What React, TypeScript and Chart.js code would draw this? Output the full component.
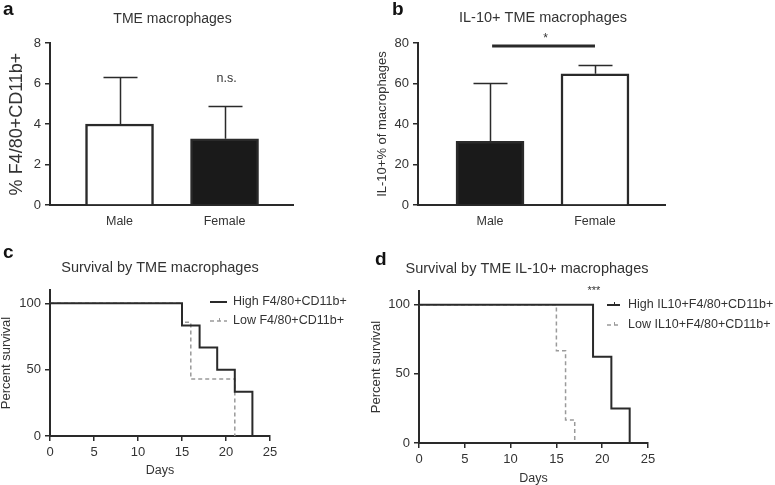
import React, { useEffect, useRef } from 'react';
import { Chart, registerables } from 'chart.js';

Chart.register(...registerables);

const FONT = '"Liberation Sans", Arial, Helvetica, sans-serif';
const INK = '#2a2a2a';
const TEXT = '#333333';
const GREY = '#9a9a9a';

Chart.defaults.font.family = FONT;
Chart.defaults.color = TEXT;

// ---------- Panel a: TME macrophages ----------
const sexCategories = ['Male', 'Female'];
const tmeMeans = [4.0, 3.27];
const tmeUpperErr = [6.3, 4.9];
const tmeFills = ['#ffffff', '#1a1a1a'];

// ---------- Panel b: IL-10+ TME macrophages ----------
const il10Means = [31.5, 64.8];
const il10UpperErr = [60.3, 69.0];
const il10Fills = ['#1a1a1a', '#ffffff'];

// ---------- Panel c: Survival by TME macrophages ----------
const highTmeDays = [0, 15, 17, 19, 21, 23];
const highTmeSurvival = [100, 83.3, 66.7, 50, 33.3, 0];
const lowTmeDays = [0, 15, 16, 21];
const lowTmeSurvival = [100, 85.7, 42.9, 0];

// ---------- Panel d: Survival by TME IL-10+ macrophages ----------
const highIl10Days = [0, 19, 21, 23];
const highIl10Survival = [100, 62.5, 25, 0];
const lowIl10Days = [0, 15, 16, 17];
const lowIl10Survival = [100, 66.7, 16.7, 0];

const fontStr = (size: number, bold?: boolean) => `${bold ? 'bold ' : ''}${size}px ${FONT}`;

const decorPlugin = {
  id: 'decor',
  afterDraw(chart: any, _args: any, opts: any) {
    const { ctx, scales } = chart;
    const xs = scales.x;
    const ys = scales.y;
    ctx.save();
    if (opts.errorBars) {
      const { means, uppers, capHalf, width } = opts.errorBars;
      ctx.strokeStyle = INK;
      ctx.lineWidth = width;
      means.forEach((m: number, i: number) => {
        const px = Math.round(xs.getPixelForValue(i + 1)) + 0.5;
        const y0 = ys.getPixelForValue(m);
        const y1 = Math.round(ys.getPixelForValue(uppers[i])) + 0.5;
        ctx.beginPath();
        ctx.moveTo(px, y0);
        ctx.lineTo(px, y1);
        ctx.moveTo(px - capHalf, y1);
        ctx.lineTo(px + capHalf, y1);
        ctx.stroke();
      });
    }
    if (opts.bracket) {
      const { x1, x2, yv, width } = opts.bracket;
      const y = ys.getPixelForValue(yv);
      ctx.strokeStyle = INK;
      ctx.lineWidth = width;
      ctx.beginPath();
      ctx.moveTo(xs.getPixelForValue(x1), y);
      ctx.lineTo(xs.getPixelForValue(x2), y);
      ctx.stroke();
    }
    if (opts.legend) {
      const { sx1, sx2, tx, rows, size } = opts.legend;
      chart.data.datasets.forEach((ds: any, i: number) => {
        const y = rows[i];
        ctx.save();
        ctx.strokeStyle = ds.borderColor;
        ctx.lineWidth = ds.borderWidth;
        ctx.setLineDash(ds.borderDash || []);
        ctx.beginPath();
        ctx.moveTo(sx1, y);
        ctx.lineTo(sx2, y);
        ctx.stroke();
        if (ds.censorTick) {
          ctx.setLineDash([]);
          ctx.lineWidth = 1;
          const mx = Math.round((sx1 + sx2) / 2) + 0.5;
          ctx.beginPath();
          ctx.moveTo(mx, y - 3);
          ctx.lineTo(mx, y);
          ctx.stroke();
        }
        ctx.restore();
        ctx.fillStyle = TEXT;
        ctx.font = fontStr(size);
        ctx.textAlign = 'left';
        ctx.textBaseline = 'middle';
        ctx.fillText(ds.label, tx, y);
      });
    }
    (opts.texts || []).forEach((t: any) => {
      const x = t.xv !== undefined ? xs.getPixelForValue(t.xv) : t.x;
      const y = t.yv !== undefined ? ys.getPixelForValue(t.yv) : t.y;
      ctx.fillStyle = t.color || TEXT;
      ctx.font = fontStr(t.size, t.bold);
      ctx.textAlign = t.align || 'center';
      ctx.textBaseline = 'alphabetic';
      ctx.fillText(t.text, x, y);
    });
    ctx.restore();
  },
};

const yAxis = (max: number, step: number, title: string, titleSize: number, titlePadTop: number, width: number) => ({
  type: 'linear',
  min: 0,
  max,
  ticks: { stepSize: step, includeBounds: false, color: TEXT, font: { size: 13 }, padding: 4 },
  grid: { display: true, drawOnChartArea: false, drawTicks: true, tickLength: 5, color: INK, lineWidth: 1.5 },
  border: { display: true, color: INK, width: 2 },
  title: {
    display: true,
    text: title,
    color: TEXT,
    font: { size: titleSize, lineHeight: 1 },
    padding: { top: titlePadTop, bottom: 0 },
  },
  afterFit: (s: any) => {
    s.width = width;
  },
});

const catAxis = (min: number, max: number, height: number) => ({
  type: 'linear',
  min,
  max,
  offset: false,
  afterBuildTicks: (s: any) => {
    s.ticks = sexCategories.map((_, i) => ({ value: i + 1 }));
  },
  ticks: {
    callback: (v: any) => sexCategories[Math.round(Number(v)) - 1] ?? '',
    color: TEXT,
    font: { size: 12.5 },
    padding: 9,
    autoSkip: false,
    maxRotation: 0,
  },
  grid: { display: false, drawTicks: false },
  border: { display: true, color: INK, width: 2 },
  afterFit: (s: any) => {
    s.height = height;
  },
});

const daysAxis = (height: number, titlePadBottom: number) => ({
  type: 'linear',
  min: 0,
  max: 25,
  ticks: { stepSize: 5, color: TEXT, font: { size: 13 }, padding: 4, maxRotation: 0 },
  grid: { display: true, drawOnChartArea: false, drawTicks: true, tickLength: 5, color: INK, lineWidth: 1.5 },
  border: { display: true, color: INK, width: 2 },
  title: {
    display: true,
    text: 'Days',
    color: TEXT,
    font: { size: 12.5, lineHeight: 1 },
    padding: { top: 0, bottom: titlePadBottom },
  },
  afterFit: (s: any) => {
    s.height = height;
  },
});

const basePlugins = { legend: { display: false }, tooltip: { enabled: false } };

const barDataset = (means: number[], fills: string[]) => ({
  label: 'mean',
  data: means.map((m, i) => ({ x: i + 1, y: m })),
  backgroundColor: fills,
  borderColor: INK,
  borderWidth: 2.5,
  barThickness: 68,
});

const kmDataset = (label: string, days: number[], surv: number[], dashed: boolean, censorTick: boolean) => ({
  label,
  data: days.map((d, i) => ({ x: d, y: surv[i] })),
  stepped: true,
  borderColor: dashed ? GREY : INK,
  borderWidth: dashed ? 1.5 : 2,
  borderDash: dashed ? [4, 3] : [],
  pointRadius: 0,
  fill: false,
  censorTick,
});

const configA = () => ({
  type: 'bar',
  data: { datasets: [barDataset(tmeMeans, tmeFills)] },
  plugins: [decorPlugin],
  options: {
    responsive: false,
    animation: false,
    layout: { padding: { left: 0, top: 43, right: 92, bottom: 0 } },
    scales: { x: catAxis(0.338, 2.652, 35), y: yAxis(8, 2, '% F4/80+CD11b+', 18, 8, 50) },
    plugins: {
      ...basePlugins,
      decor: {
        errorBars: { means: tmeMeans, uppers: tmeUpperErr, capHalf: 17, width: 1.5 },
        texts: [
          { text: 'a', x: 3, y: 15, size: 19, bold: true, align: 'left', color: '#111' },
          { text: 'TME macrophages', x: 172.5, y: 22.5, size: 14 },
          { text: 'n.s.', xv: 2.02, yv: 6.05, size: 12.5 },
        ],
      },
    },
  },
});

const configB = () => ({
  type: 'bar',
  data: { datasets: [barDataset(il10Means, il10Fills)] },
  plugins: [decorPlugin],
  options: {
    responsive: false,
    animation: false,
    layout: { padding: { left: 0, top: 43, right: 110, bottom: 0 } },
    scales: { x: catAxis(0.314, 2.667, 35), y: yAxis(80, 20, 'IL-10+% of macrophages', 13, 5.5, 48) },
    plugins: {
      ...basePlugins,
      decor: {
        errorBars: { means: il10Means, uppers: il10UpperErr, capHalf: 17, width: 1.5 },
        bracket: { x1: 1.02, x2: 2.0, yv: 78.5, width: 3 },
        texts: [
          { text: 'b', x: 22, y: 15, size: 19, bold: true, align: 'left', color: '#111' },
          { text: 'IL-10+ TME macrophages', x: 173, y: 21.7, size: 14.5 },
          { text: '*', xv: 1.53, yv: 80.7, size: 12 },
        ],
      },
    },
  },
});

const configC = () => ({
  type: 'line',
  data: {
    datasets: [
      kmDataset('High F4/80+CD11b+', highTmeDays, highTmeSurvival, false, false),
      kmDataset('Low F4/80+CD11b+', lowTmeDays, lowTmeSurvival, true, true),
    ],
  },
  plugins: [decorPlugin],
  options: {
    responsive: false,
    animation: false,
    layout: { padding: { left: 0, top: 50, right: 115, bottom: 0 } },
    scales: { x: daysAxis(49, 8.5), y: yAxis(110, 50, 'Percent survival', 13, 0, 50) },
    plugins: {
      ...basePlugins,
      decor: {
        legend: { sx1: 210, sx2: 227, tx: 233, rows: [62, 81], size: 12.5 },
        texts: [
          { text: 'c', x: 3, y: 18, size: 19, bold: true, align: 'left', color: '#111' },
          { text: 'Survival by TME macrophages', x: 160, y: 32, size: 14.5 },
        ],
      },
    },
  },
});

const configD = () => ({
  type: 'line',
  data: {
    datasets: [
      kmDataset('High IL10+F4/80+CD11b+', highIl10Days, highIl10Survival, false, true),
      kmDataset('Low IL10+F4/80+CD11b+', lowIl10Days, lowIl10Survival, true, true),
    ],
  },
  plugins: [decorPlugin],
  options: {
    responsive: false,
    animation: false,
    layout: { padding: { left: 0, top: 51, right: 127, bottom: 0 } },
    scales: { x: daysAxis(42, 0.5), y: yAxis(110, 50, 'Percent survival', 13, 5, 54) },
    plugins: {
      ...basePlugins,
      decor: {
        legend: { sx1: 242, sx2: 255, tx: 263, rows: [65, 85], size: 12.5 },
        texts: [
          { text: 'd', x: 10, y: 25, size: 19, bold: true, align: 'left', color: '#111' },
          { text: 'Survival by TME IL-10+ macrophages', x: 162, y: 33, size: 14.5 },
          { text: '***', xv: 19.1, yv: 108, size: 11 },
        ],
      },
    },
  },
});

function Panel({ left, top, width, height, build }: { left: number; top: number; width: number; height: number; build: () => any }) {
  const ref = useRef<HTMLCanvasElement>(null);
  useEffect(() => {
    const chart = new Chart(ref.current as HTMLCanvasElement, build());
    return () => chart.destroy();
  }, []);
  return (
    <canvas
      ref={ref}
      width={width}
      height={height}
      style={{ position: 'absolute', left, top, width, height }}
    />
  );
}

export default function App() {
  return (
    <div style={{ position: 'absolute', left: 0, top: 0, width: 775, height: 485, background: '#fff', overflow: 'hidden' }}>
      <Panel left={0} top={0} width={385} height={240} build={configA} />
      <Panel left={370} top={0} width={405} height={240} build={configB} />
      <Panel left={0} top={240} width={385} height={245} build={configC} />
      <Panel left={365} top={240} width={410} height={245} build={configD} />
    </div>
  );
}
